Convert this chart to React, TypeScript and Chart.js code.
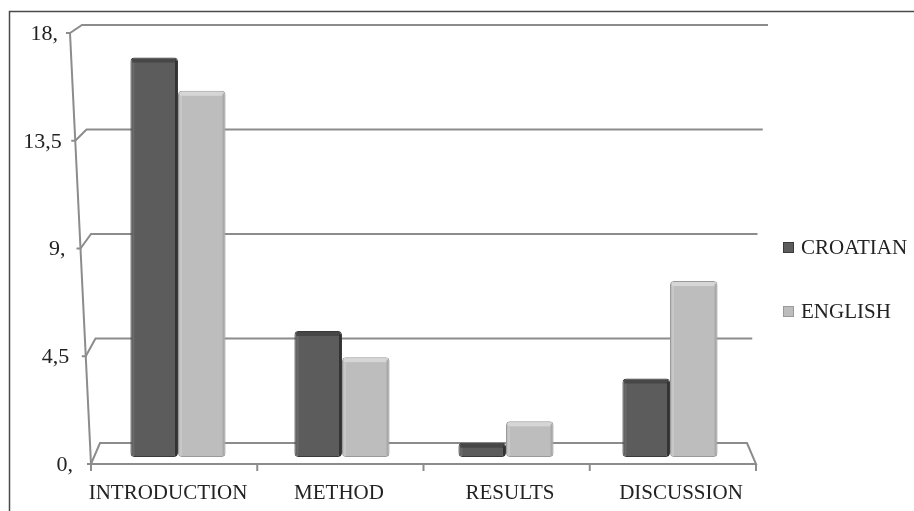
import { useEffect, useRef } from "react";
import { Chart, registerables } from "chart.js";

Chart.register(...registerables);

const categories = ["INTRODUCTION", "METHOD", "RESULTS", "DISCUSSION"];
const seriesNames = ["CROATIAN", "ENGLISH"];
const croatian = [16.8, 5.3, 0.6, 3.3];
const english = [15.4, 4.2, 1.5, 7.4];
const yTicks = [0, 4.5, 9, 13.5, 18];
const yTickLabels = ["0,", "4,5", "9,", "13,5", "18,"];

const FONT = '"Liberation Serif", "Times New Roman", serif';
const FILLS = ["#5c5c5c", "#bdbdbd"];
const EDGES = ["#3a3a3a", "#9a9a9a"];
const TOPS = ["#474747", "#d6d6d6"];

export default function App() {
  const ref = useRef<HTMLCanvasElement>(null);

  useEffect(() => {
    if (!ref.current) return;

    const geo = (chart: any, v: number) => {
      const { left, right, top, bottom } = chart.chartArea;
      const p = chart.scales.y.getPixelForValue(v);
      const t = (p - top) / (bottom - top);
      return {
        t,
        backY: top - 4 + t * (bottom - 14 - (top - 4)),
        frontY: top + 4 + t * (bottom + 7 - (top + 4)),
        backL: left - 14 + t * 18,
        frontL: left - 26 + t * 21,
        backR: right + 16 - t * 21,
      };
    };

    const frame = {
      id: "frame",
      beforeDatasetsDraw(chart: any) {
        const ctx = chart.ctx;
        const { right } = chart.chartArea;
        ctx.save();
        // outer box
        ctx.strokeStyle = "#4a4a4a";
        ctx.lineWidth = 1.5;
        ctx.beginPath();
        ctx.moveTo(9.5, 511);
        ctx.lineTo(9.5, 11.5);
        ctx.lineTo(914, 11.5);
        ctx.stroke();

        ctx.strokeStyle = "#8c8c8c";
        ctx.lineWidth = 2;
        ctx.lineJoin = "miter";
        yTicks.forEach((v) => {
          const g = geo(chart, v);
          ctx.beginPath();
          ctx.moveTo(g.frontL - 4, g.frontY);
          ctx.lineTo(g.frontL, g.frontY);
          ctx.lineTo(g.backL, g.backY);
          ctx.lineTo(g.backR, g.backY);
          if (v === 0) {
            ctx.lineTo(right + 4, g.frontY);
            ctx.lineTo(g.frontL, g.frontY);
          }
          ctx.stroke();
        });
        // front axis line
        const g0 = geo(chart, yTicks[0]);
        const gN = geo(chart, yTicks[yTicks.length - 1]);
        ctx.beginPath();
        ctx.moveTo(gN.frontL, gN.frontY);
        ctx.lineTo(g0.frontL, g0.frontY);
        ctx.stroke();
        // category tick marks
        const n = categories.length;
        for (let i = 0; i <= n; i++) {
          const xx = g0.frontL + (i * (right + 4 - g0.frontL)) / n;
          ctx.beginPath();
          ctx.moveTo(xx, g0.frontY);
          ctx.lineTo(xx, g0.frontY + 7);
          ctx.stroke();
        }

        // y labels
        ctx.fillStyle = "#222";
        ctx.font = `22px ${FONT}`;
        ctx.textAlign = "right";
        ctx.textBaseline = "middle";
        yTicks.forEach((v, i) => {
          const g = geo(chart, v);
          ctx.fillText(yTickLabels[i], g.frontL - 12 - g.t * 6, g.frontY + 1);
        });
        // x labels
        ctx.font = `21px ${FONT}`;
        ctx.textAlign = "center";
        categories.forEach((c, i) => {
          const xx = chart.scales.x.getPixelForValue(i);
          ctx.fillText(c, xx - 10 + i * 7, g0.frontY + 29);
        });

        // legend
        ctx.textAlign = "left";
        const legendY = [247, 311];
        seriesNames.forEach((s, i) => {
          const ly = legendY[i];
          ctx.fillStyle = FILLS[i];
          ctx.fillRect(783, ly - 5, 11, 11);
          ctx.strokeStyle = EDGES[i];
          ctx.lineWidth = 1;
          ctx.strokeRect(783.5, ly - 4.5, 10, 10);
          ctx.fillStyle = "#222";
          ctx.fillText(s, 801, ly + 1);
        });
        ctx.restore();
      },
      afterDatasetsDraw(chart: any) {
        const ctx = chart.ctx;
        ctx.save();
        chart.data.datasets.forEach((_: any, di: number) => {
          const meta = chart.getDatasetMeta(di);
          meta.data.forEach((bar: any) => {
            const w = bar.width;
            const x0 = bar.x - w / 2;
            const top = bar.y;
            const h = bar.base - bar.y;
            ctx.fillStyle = TOPS[di];
            ctx.fillRect(x0 + 2, top + 1, w - 4, Math.min(4, h - 2));
            ctx.fillStyle = di === 0 ? "#333" : "#a8a8a8";
            ctx.fillRect(x0 + w - 3, top + 3, 2, Math.max(0, h - 4));
            ctx.fillStyle = di === 0 ? "#6a6a6a" : "#c8c8c8";
            ctx.fillRect(x0 + 2, top + 5, 2, Math.max(0, h - 7));
          });
        });
        ctx.restore();
      },
    };

    const chart = new Chart(ref.current, {
      type: "bar",
      data: {
        labels: categories,
        datasets: [
          {
            label: seriesNames[0],
            data: croatian,
            backgroundColor: FILLS[0],
            borderColor: EDGES[0],
            borderWidth: 1,
            borderRadius: 4,
            borderSkipped: false,
          },
          {
            label: seriesNames[1],
            data: english,
            backgroundColor: FILLS[1],
            borderColor: EDGES[1],
            borderWidth: 1,
            borderRadius: 4,
            borderSkipped: false,
          },
        ],
      },
      options: {
        responsive: false,
        animation: false,
        layout: { padding: { left: 96, right: 162, top: 29, bottom: 54 } },
        plugins: { legend: { display: false }, tooltip: { enabled: false } },
        datasets: { bar: { categoryPercentage: 0.58, barPercentage: 1 } },
        scales: {
          x: { display: false },
          y: { display: false, min: 0, max: 18, ticks: { stepSize: 4.5 } },
        },
      },
      plugins: [frame],
    });
    return () => chart.destroy();
  }, []);

  return (
    <div style={{ position: "absolute", left: 0, top: 0, width: 914, height: 511, background: "#fff" }}>
      <canvas ref={ref} width={914} height={511} style={{ display: "block" }} />
    </div>
  );
}
